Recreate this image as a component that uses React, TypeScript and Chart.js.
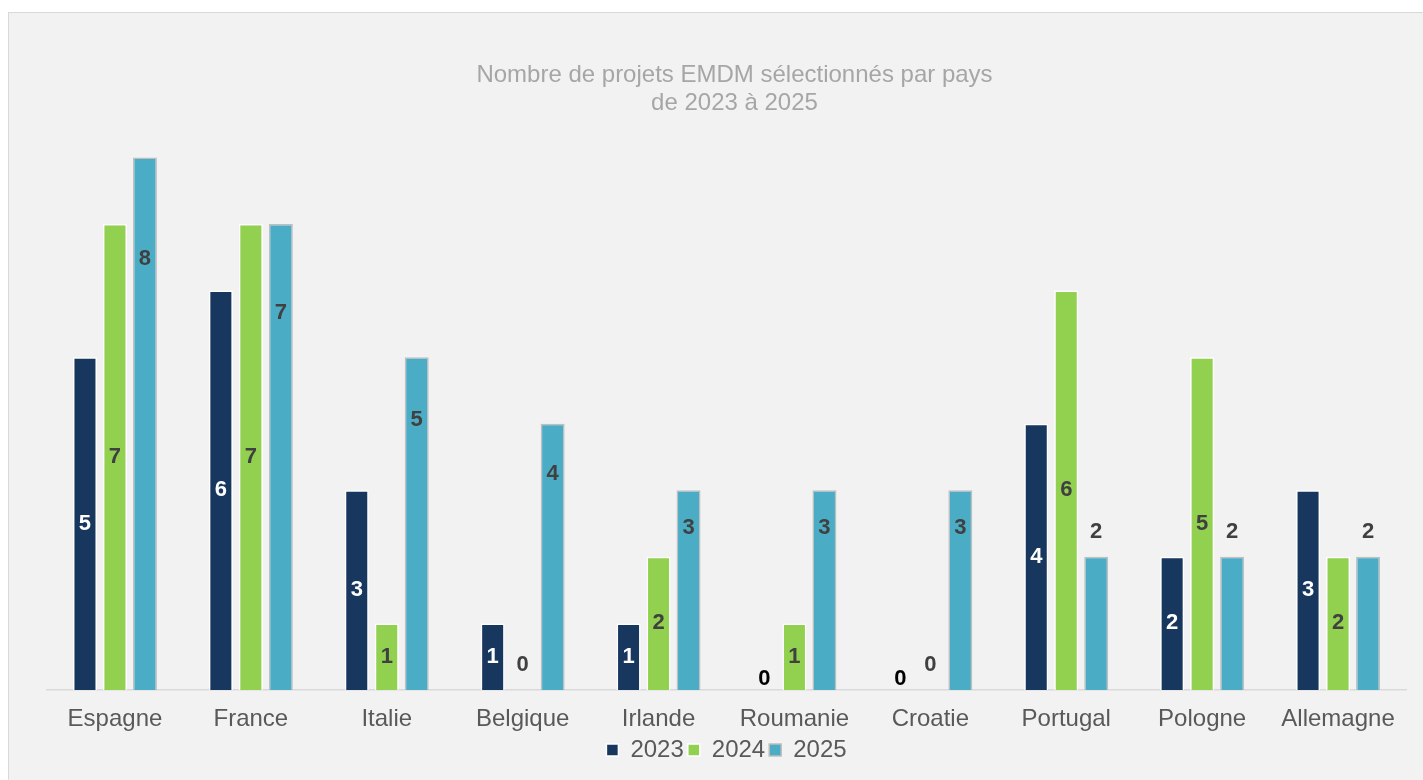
import React, { useEffect, useRef } from "react";
import { Chart, registerables } from "chart.js";

Chart.register(...registerables);

const categories = ["Espagne", "France", "Italie", "Belgique", "Irlande", "Roumanie", "Croatie", "Portugal", "Pologne", "Allemagne"];
const values2023 = [5, 6, 3, 1, 1, 0, 0, 4, 2, 3];
const values2024 = [7, 7, 1, 0, 2, 1, 0, 6, 5, 2];
const values2025 = [8, 7, 5, 4, 3, 3, 3, 2, 2, 2];
const seriesLabels = ["2023", "2024", "2025"];
const titleLines = ["Nombre de projets EMDM sélectionnés par pays", "de 2023 à 2025"];

const FONT = '"Liberation Sans", Arial, sans-serif';

const valueLabels = {
  id: "valueLabels",
  afterDatasetsDraw(chart: any) {
    const ctx = chart.ctx;
    ctx.save();
    ctx.font = `bold 22px ${FONT}`;
    ctx.textAlign = "center";
    ctx.textBaseline = "middle";
    chart.data.datasets.forEach((ds: any, di: number) => {
      const meta = chart.getDatasetMeta(di);
      meta.data.forEach((el: any, i: number) => {
        const v = ds.data[i];
        const { x, y, base } = el.getProps(["x", "y", "base"], true);
        const h = base - y;
        let ty: number;
        let color: string;
        if (di === 0) {
          if (v === 0) {
            ty = base - 11;
            color = "#000000";
          } else {
            ty = base - h / 2;
            color = "#ffffff";
          }
        } else if (di === 1) {
          color = "#404040";
          ty = v === 0 ? base - 25 : base - h / 2;
        } else {
          color = "#404040";
          ty = v <= 2 ? y - 25 : base - h * 0.81;
        }
        ctx.fillStyle = color;
        ctx.fillText(String(v), x, ty);
      });
    });
    ctx.restore();
  },
};

const shiftTitle = {
  id: "shiftTitle",
  afterLayout(chart: any) {
    const tb = chart.titleBlock;
    if (tb) {
      tb.left += 8;
      tb.right += 8;
    }
  },
};

export default function App() {
  const canvasRef = useRef<HTMLCanvasElement | null>(null);

  useEffect(() => {
    document.documentElement.style.overflow = "hidden";
    document.body.style.overflow = "hidden";
    if (!canvasRef.current) return;
    const chart = new Chart(canvasRef.current, {
      type: "bar",
      data: {
        labels: categories,
        datasets: [
          {
            label: seriesLabels[0],
            data: values2023,
            backgroundColor: "#17375e",
            borderColor: "#ffffff",
            borderWidth: 1.5,
          },
          {
            label: seriesLabels[1],
            data: values2024,
            backgroundColor: "#92d050",
            borderColor: "#ffffff",
            borderWidth: 1.5,
          },
          {
            label: seriesLabels[2],
            data: values2025,
            backgroundColor: "#4bacc6",
            borderColor: "#bfbfbf",
            borderWidth: 1.5,
          },
        ],
      },
      options: {
        animation: false,
        responsive: true,
        maintainAspectRatio: false,
        datasets: {
          bar: {
            categoryPercentage: 0.662,
            barPercentage: 0.8,
          },
        },
        layout: {
          padding: { top: 41, left: 38, right: 16, bottom: 7 },
        },
        plugins: {
          title: {
            display: true,
            text: titleLines,
            color: "#a6a6a6",
            font: { family: FONT, size: 24, weight: "normal", lineHeight: 1.17 },
            padding: { top: 7, bottom: 7 },
          },
          legend: {
            display: true,
            position: "bottom",
            labels: {
              boxWidth: 12,
              boxHeight: 12,
              padding: 4,
              color: "#595959",
              font: { family: FONT, size: 24 },
            },
          },
          tooltip: { enabled: false },
        },
        scales: {
          x: {
            grid: { display: false, drawTicks: false },
            border: { display: true, color: "#d9d9d9", width: 1.5 },
            ticks: {
              color: "#595959",
              padding: 15,
              font: { family: FONT, size: 24 },
            },
            afterFit: (scale: any) => {
              scale.height = 44;
            },
          },
          y: {
            display: false,
            min: 0,
            max: 8.5,
          },
        },
      },
      plugins: [valueLabels, shiftTitle],
    });
    return () => chart.destroy();
  }, []);

  return (
    <div
      style={{
        position: "fixed",
        left: 8,
        top: 12,
        width: 1413,
        height: 766,
        borderTop: "1px solid #d9d9d9",
        borderLeft: "1px solid #d9d9d9",
        borderRight: "1px solid #f2f2f2",
        borderBottom: "1px solid #f2f2f2",
        background: "#f2f2f2",
      }}
    >
      <canvas ref={canvasRef} />
    </div>
  );
}
